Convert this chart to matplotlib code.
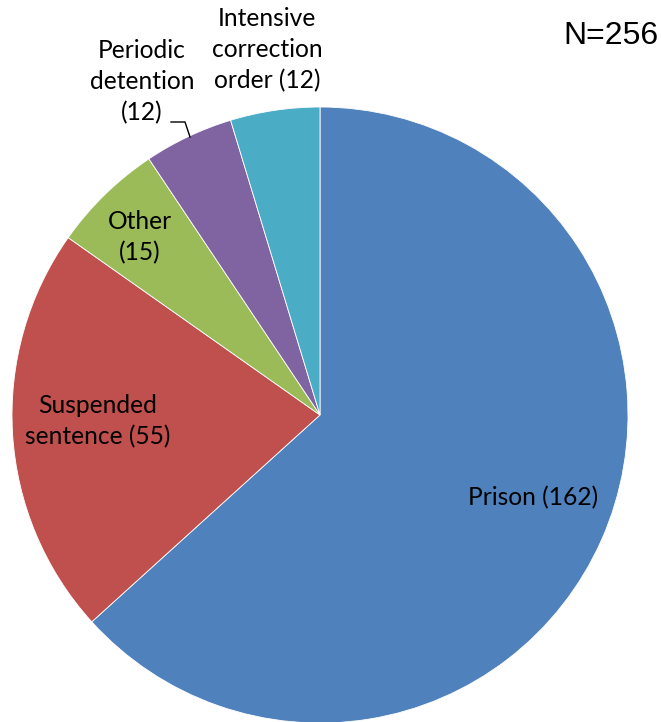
import matplotlib.pyplot as plt
import numpy as np

labels = ['Prison (162)', 'Suspended\nsentence (55)', 'Other\n(15)',
          'Periodic\ndetention\n(12)', 'Intensive\ncorrection\norder (12)']
counts = [162, 55, 15, 12, 12]
colors = ['#4F81BD', '#C0504D', '#9BBB59', '#8064A2', '#4BACC6']

fig = plt.figure(figsize=(6.61, 7.22), dpi=100)
# pie centre ~ (320, 415) px, radius ~ 308 px
R = 308
cx, cy = 320, 415
ax = fig.add_axes([(cx - R) / 661, 1 - (cy + R) / 722, 2 * R / 661, 2 * R / 722])
ax.pie(counts, colors=colors, startangle=90, counterclock=False, radius=1,
       wedgeprops=dict(edgecolor='white', linewidth=0.6))
ax.set_xlim(-1, 1)
ax.set_ylim(-1, 1)
ax.set_aspect('auto')

def px(x, y):
    return ((x - cx) / R, (cy - y) / R)

font = ['Lato', 'DejaVu Sans']
fs = 17.7
pos = [(533, 498), (98, 421), (140, 237), (142, 82), (267, 50)]
for lab, (x, y) in zip(labels, pos):
    ax.text(*px(x, y), lab, ha='center', va='center', fontsize=fs,
            family=font, linespacing=1.42)

# leader line for the periodic detention label
lx = [px(171, 122)[0], px(185, 122)[0], px(190, 137)[0]]
ly = [px(171, 122)[1], px(185, 122)[1], px(190, 137)[1]]
ax.plot(lx, ly, color='black', lw=1, clip_on=False)

fig.text(658 / 661, 1 - 36 / 722, 'N=256', ha='right', va='center',
         fontsize=23, family='Liberation Sans')

fig.savefig('out.png', dpi=100)
